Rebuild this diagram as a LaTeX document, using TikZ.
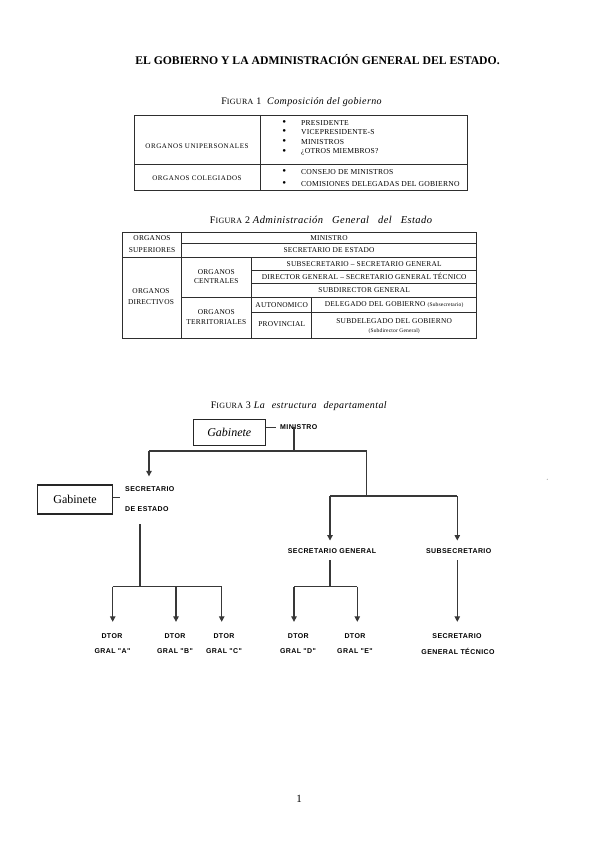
\documentclass[tikz,border=0pt]{standalone}
\usepackage{fontspec}
\setmainfont{Liberation Serif}
\newfontfamily\tabfont[LetterSpace=3]{Liberation Serif}
\newfontfamily\tabwfont[LetterSpace=8]{Liberation Serif}
\newfontfamily\capfont[LetterSpace=4]{Liberation Serif}
\newfontfamily\labfont[LetterSpace=6]{Liberation Sans}
\usetikzlibrary{arrows.meta}
\newcommand{\fs}[1]{\fontsize{#1}{#1}\selectfont}
\begin{document}
\begin{tikzpicture}[x=1pt,y=-1pt,
  tline/.style={line width=0.95pt, draw=black!82},
  conn/.style={line width=1.1pt, draw=black!78},
  arr/.style={conn, -{Triangle[width=5.5pt,length=5.5pt]}, shorten >=11.5pt},
  lab/.style={font=\labfont\bfseries\fs{7}, inner sep=0pt, text=black},
  t1l/.style={font=\tabwfont\fs{7}, inner sep=0pt},
  t1r/.style={font=\tabfont\fs{7.6}, inner sep=0pt, anchor=west},
  bul/.style={font=\fs{11}, inner sep=0pt},
  t2/.style={font=\tabfont\fs{7.4}, inner sep=0pt},
  gabbox/.style={draw=black!85, line width=1.1pt, inner sep=0pt},
  figcap/.style={font=\capfont\fs{10}, inner sep=0pt}
]
\useasboundingbox[fill=white] (0,0) rectangle (599,848);

% Title
\node[font=\bfseries\fs{11.7}, inner sep=0pt] (title) at (317.5,60) {EL GOBIERNO Y LA ADMINISTRACIÓN GENERAL DEL ESTADO.};

% ---------- Figure 1 ----------
\node[figcap] (cap1) at (301.7,102.3) {F{\fs{8}IGURA} 1\ \ \textit{Composición del gobierno}};
\draw[tline] (134.3,115) rectangle (467,190.7);
\draw[tline] (260,115) -- (260,190.7);
\draw[tline] (134.3,164) -- (467,164);
\node[t1l] (uni) at (197,146.7) {ORGANOS UNIPERSONALES};
\node[t1l] (col) at (197,178.3) {ORGANOS COLEGIADOS};
\foreach \yy/\txt in {123/PRESIDENTE, 132.5/VICEPRESIDENTE-S, 142/MINISTROS, 152/{¿OTROS MIEMBROS?}, 172.3/CONSEJO DE MINISTROS, 184/COMISIONES DELEGADAS DEL GOBIERNO}{
  \node[bul] at (284.3,\yy) {•};
  \node[t1r] at (301,\yy) {\txt};
}

% ---------- Figure 2 ----------
\node[figcap] (cap2) at (321,220) {F{\fs{8}IGURA} 2 {\fs{10.5}\itshape Administración\hspace{9pt}General\hspace{9pt}del\hspace{9pt}Estado}};
\draw[tline] (122.7,232.5) rectangle (476.7,338.3);
\draw[tline] (181,232.5) -- (181,338.3);
\draw[tline] (251.7,257.5) -- (251.7,338.3);
\draw[tline] (311.7,297.2) -- (311.7,338.3);
\draw[tline] (181,243.2) -- (476.7,243.2);
\draw[tline] (122.7,257.5) -- (476.7,257.5);
\draw[tline] (251.7,270) -- (476.7,270);
\draw[tline] (251.7,283.3) -- (476.7,283.3);
\draw[tline] (181,297.2) -- (476.7,297.2);
\draw[tline] (251.7,312.5) -- (476.7,312.5);

\node[t2] at (152,238.5) {ORGANOS};
\node[t2] at (152,250.5) {SUPERIORES};
\node[t2] at (329,238) {MINISTRO};
\node[t2] at (329,250.5) {SECRETARIO DE ESTADO};
\node[t2] at (151,291) {ORGANOS};
\node[t2] at (151,302) {DIRECTIVOS};
\node[t2] at (216.3,272.5) {ORGANOS};
\node[t2] at (216.3,281) {CENTRALES};
\node[t2] at (216.3,312.5) {ORGANOS};
\node[t2] at (216.3,322) {TERRITORIALES};
\node[t2] at (364.2,263.8) {SUBSECRETARIO – SECRETARIO GENERAL};
\node[t2] at (364.2,276.8) {DIRECTOR GENERAL – SECRETARIO GENERAL TÉCNICO};
\node[t2] at (364.2,290.3) {SUBDIRECTOR GENERAL};
\node[t2] at (281.7,305) {AUTONOMICO};
\node[t2] at (281.7,324) {PROVINCIAL};
\node[t2] at (394.2,305) {DELEGADO DEL GOBIERNO {\fs{5.5}(Subsecretario)}};
\node[t2] at (394.2,321) {SUBDELEGADO DEL GOBIERNO};
\node[t2, font=\tabfont\fs{5.5}] at (394.2,331.5) {(Subdirector General)};

% ---------- Figure 3 ----------
\node[figcap] (cap3) at (299,406.5) {F{\fs{8}IGURA} 3\ \textit{La\hspace{7pt}estructura\hspace{7pt}departamental}};

\node[gabbox, font=\itshape\fs{12}, minimum width=72.5pt, minimum height=26pt] (g1) at (229.3,432.5) {Gabinete};
\node[lab, anchor=west] (min) at (280,427) {MINISTRO};
\coordinate (m1) at (276,427.3);
\draw[conn] (g1.east |- m1) -- (m1);
\coordinate (j1) at (294,451);
\coordinate (jl) at (149,451);
\coordinate (jr) at (366.7,451);
\draw[conn] ([yshift=2.5pt]j1 |- min.south) -- (j1);
\draw[conn] (jl) -- (jr);

% Secretario de Estado branch
\node[lab, anchor=west] (se1) at (125,489) {SECRETARIO};
\node[lab, anchor=west] (se2) at (125,509) {DE ESTADO};
\draw[arr, shorten >=10pt] (jl) -- (jl |- se1.north);
\node[gabbox, font=\fs{12}, minimum width=75.4pt, minimum height=29pt] (g2) at (75,499.5) {Gabinete};
\coordinate (m2) at (120,497.3);
\draw[conn] (g2.east |- m2) -- (m2);
\coordinate (vA) at (140,524);
\coordinate (jA) at (140,586.7);
\draw[conn] (vA) -- (jA);
\coordinate (ha) at (112.7,586.7);
\coordinate (hb) at (176,586.7);
\coordinate (hc) at (221.7,586.7);
\draw[conn] (ha) -- (hc);
\node[lab] (dA) at (112,636) {DTOR};
\node[lab] (gA) at (112.5,651) {GRAL "A"};
\node[lab] (dB) at (175,636) {DTOR};
\node[lab] (gB) at (175,651) {GRAL "B"};
\node[lab] (dC) at (224,636) {DTOR};
\node[lab] (gC) at (224,651) {GRAL "C"};
\draw[arr] (ha) -- (ha |- dA.north);
\draw[arr] (hb) -- (hb |- dB.north);
\draw[arr] (hc) -- (hc |- dC.north);

% right part
\coordinate (jm) at (366.7,496);
\coordinate (sg) at (330,496);
\coordinate (ss) at (457.3,496);
\draw[conn] (jr) -- (jm);
\draw[conn] (sg) -- (ss);
\node[lab] (secg) at (332,550.7) {SECRETARIO GENERAL};
\node[lab] (subs) at (458.7,550.7) {SUBSECRETARIO};
\draw[arr, shorten >=7.5pt] (sg) -- (sg |- secg.north);
\draw[arr, shorten >=7.5pt] (ss) -- (ss |- subs.north);

\coordinate (sg2) at (330,560);
\coordinate (jD) at (330,586.7);
\draw[conn] (sg2) -- (jD);
\coordinate (hd) at (294,586.7);
\coordinate (he) at (357.3,586.7);
\draw[conn] (hd) -- (he);
\node[lab] (dD) at (298.3,636) {DTOR};
\node[lab] (gD) at (298,651) {GRAL "D"};
\node[lab] (dE) at (355,636) {DTOR};
\node[lab] (gE) at (355,651) {GRAL "E"};
\draw[arr] (hd) -- (hd |- dD.north);
\draw[arr] (he) -- (he |- dE.north);

\coordinate (ss2) at (457.3,560);
\node[lab] (sgt1) at (457,636) {SECRETARIO};
\node[lab] (sgt2) at (458,651) {GENERAL TÉCNICO};
\draw[arr] (ss2) -- (ss2 |- sgt1.north);

\fill[black!35] (547.3,479.3) circle (0.6pt);

% page number
\node[font=\fs{11}, inner sep=0pt] (pg) at (299,799) {1};
\end{tikzpicture}
\end{document}
